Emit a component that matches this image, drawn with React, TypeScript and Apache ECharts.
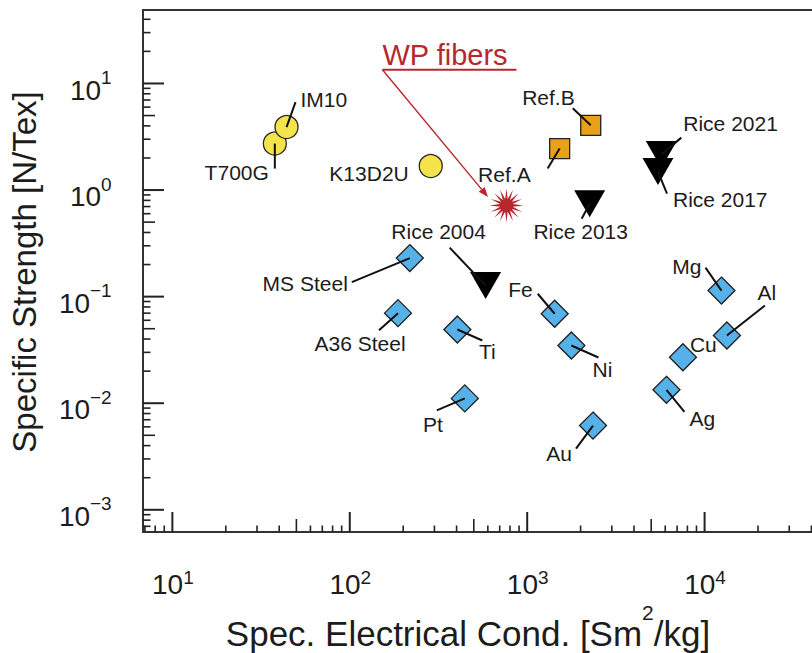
import React, { useEffect, useRef } from "react";
import * as echarts from "echarts";

const FONT = '"Liberation Sans", Arial, Helvetica, sans-serif';
const TEXT = "#1c1c1c";
const RED = "#B7282E";

// ---------------- data ----------------
const carbonNames = ["T700G", "IM10", "K13D2U"];
const carbonCond = [37.8, 44, 286];
const carbonStrength = [2.73, 3.9, 1.68];

const refNames = ["Ref.A", "Ref.B"];
const refCond = [1524, 2281];
const refStrength = [2.45, 4.05];

const riceNames = ["Rice 2004", "Rice 2013", "Rice 2017", "Rice 2021"];
const riceCond = [583, 2250, 5460, 5700];
const riceStrength = [0.127, 0.745, 1.49, 2.15];

const metalNames = ["MS Steel", "A36 Steel", "Ti", "Pt", "Fe", "Ni", "Au", "Mg", "Al", "Cu", "Ag"];
const metalCond = [218, 187, 404, 445, 1429, 1775, 2350, 12450, 13360, 7550, 6095];
const metalStrength = [0.23, 0.07, 0.0492, 0.0111, 0.0691, 0.0348, 0.00617, 0.114, 0.0432, 0.027, 0.01336];

const wpName = "WP fibers";
const wpCond = [764];
const wpStrength = [0.718];

const xTickExponents = [1, 2, 3, 4];
const yTickExponents = [-3, -2, -1, 0, 1];

const X_MIN = 6.83;
const X_MAX = 1e5;
const Y_MIN = 6.19e-4;
const Y_MAX = 48.9;

// ---------------- label layout (pixel offsets from marker) ----------------
type Lay = { dx: number; dy: number; align: "left" | "center" | "right"; lx?: number; ly?: number };
const labelLayout: Record<string, Lay> = {
  T700G: { dx: -6, dy: 29, align: "right", lx: 0, ly: 25 },
  IM10: { dx: 14, dy: -28, align: "left", lx: 9, ly: -25 },
  K13D2U: { dx: -22, dy: 7, align: "right" },
  "Ref.A": { dx: -29, dy: 26, align: "right", lx: -12, ly: 20 },
  "Ref.B": { dx: -16, dy: -27.5, align: "right", lx: -18, ly: -17 },
  "Rice 2004": { dx: -47, dy: -54, align: "center", lx: -36, ly: -38 },
  "Rice 2013": { dx: -9, dy: 28, align: "center", lx: -8, ly: 15 },
  "Rice 2017": { dx: 15, dy: 28, align: "left", lx: 9, ly: 22 },
  "Rice 2021": { dx: 22, dy: -31.5, align: "left", lx: 20, ly: -17 },
  "MS Steel": { dx: -62, dy: 25, align: "right", lx: -58, ly: 24 },
  "A36 Steel": { dx: -38, dy: 30, align: "center", lx: -19, ly: 17 },
  Ti: { dx: 30, dy: 22, align: "center", lx: 25, ly: 11 },
  Pt: { dx: -32, dy: 26, align: "center", lx: -28, ly: 12 },
  Fe: { dx: -22, dy: -24, align: "right", lx: -17, ly: -20 },
  Ni: { dx: 31, dy: 24, align: "center", lx: 27, ly: 12 },
  Au: { dx: -34, dy: 27.5, align: "center", lx: -17, ly: 23 },
  Mg: { dx: -20, dy: -24, align: "right", lx: -16, ly: -23 },
  Al: { dx: 40, dy: -43, align: "center", lx: 38, ly: -30 },
  Cu: { dx: 7, dy: -13, align: "left" },
  Ag: { dx: 23, dy: 29, align: "left", lx: 18, ly: 22 },
};

type Pt = { name: string; x: number; y: number };
const allPoints: Pt[] = [];
[
  [carbonNames, carbonCond, carbonStrength],
  [refNames, refCond, refStrength],
  [riceNames, riceCond, riceStrength],
  [metalNames, metalCond, metalStrength],
].forEach(([names, xs, ys]: any) => {
  names.forEach((n: string, i: number) => allPoints.push({ name: n, x: xs[i], y: ys[i] }));
});

// axis tick positions (standard log decades)
const xTicks: number[][] = [];
for (let d = 0; d <= 5; d++)
  for (let m = 1; m <= 9; m++) {
    const v = m * Math.pow(10, d);
    if (v >= X_MIN && v <= X_MAX) xTicks.push([v, Y_MIN, m === 1 ? 20 : m === 5 ? 13 : 6.5]);
  }
const yTicks: number[][] = [];
for (let d = -4; d <= 1; d++)
  for (let m = 1; m <= 9; m++) {
    const v = m * Math.pow(10, d);
    if (v >= Y_MIN && v <= Y_MAX) yTicks.push([X_MIN, v, m === 1 ? 21 : m === 5 ? 12 : 7.5]);
  }

const starSymbol = (() => {
  const n = 16;
  let d = "";
  for (let i = 0; i < 2 * n; i++) {
    const r = i % 2 === 0 ? 50 : 19;
    const a = (Math.PI * i) / n - Math.PI / 2;
    d += (i ? "L" : "M") + (50 + r * Math.cos(a)).toFixed(2) + "," + (50 + r * Math.sin(a)).toFixed(2);
  }
  return "path://" + d + "Z";
})();

const supText = (e: number) => (e < 0 ? "\u2212" + -e : String(e));

export default function App() {
  const ref = useRef<HTMLDivElement>(null);
  useEffect(() => {
    document.body.style.margin = "0";
    if (!ref.current) return;
    const chart = echarts.init(ref.current, undefined, { renderer: "svg" });
    const hiddenAxis = {
      type: "log",
      logBase: 10,
      axisLine: { show: false },
      axisTick: { show: false },
      axisLabel: { show: false },
      splitLine: { show: false },
      minorTick: { show: false },
    };
    const option: any = {
      animation: false,
      backgroundColor: "#ffffff",
      grid: {
        left: 143,
        top: 10,
        right: -70,
        bottom: 121,
        show: true,
        borderColor: "#333",
        borderWidth: 2,
        backgroundColor: "transparent",
        containLabel: false,
        outerBoundsMode: "none",
      },
      xAxis: { ...hiddenAxis, min: X_MIN, max: X_MAX },
      yAxis: { ...hiddenAxis, min: Y_MIN, max: Y_MAX },
      graphic: [
        {
          type: "text",
          x: 24,
          y: 272,
          rotation: Math.PI / 2,
          style: {
            text: "Specific Strength [N/Tex]",
            fill: TEXT,
            fontSize: 33,
            fontFamily: FONT,
            align: "center",
            verticalAlign: "middle",
          },
        },
        {
          type: "text",
          x: 468,
          y: 633,
          style: {
            text: "{a|Spec. Electrical Cond. [Sm}{s|2}{a|/kg]}",
            fill: TEXT,
            fontFamily: FONT,
            align: "center",
            verticalAlign: "middle",
            rich: {
              a: { fontSize: 35, lineHeight: 62, fontFamily: FONT, fill: TEXT, verticalAlign: "middle" },
              s: { fontSize: 21, lineHeight: 21, fontFamily: FONT, fill: TEXT, verticalAlign: "top" },
            },
          },
        },
      ],
      series: [
        {
          type: "custom",
          name: "xticks",
          z: 4,
          silent: true,
          data: xTicks,
          renderItem: (_p: any, api: any) => {
            const c = api.coord([api.value(0), api.value(1)]);
            const len = api.value(2);
            return {
              type: "line",
              shape: { x1: c[0], y1: c[1], x2: c[0], y2: c[1] - len },
              style: { stroke: "#222", lineWidth: len > 15 ? 2 : 1.6 },
            };
          },
        },
        {
          type: "custom",
          name: "yticks",
          z: 4,
          silent: true,
          data: yTicks,
          renderItem: (_p: any, api: any) => {
            const c = api.coord([api.value(0), api.value(1)]);
            const len = api.value(2);
            return {
              type: "line",
              shape: { x1: c[0], y1: c[1], x2: c[0] + len, y2: c[1] },
              style: { stroke: "#222", lineWidth: len > 15 ? 2 : 1.6 },
            };
          },
        },
        {
          type: "custom",
          name: "xlabels",
          silent: true,
          data: xTickExponents.map((e) => [Math.pow(10, e), Y_MIN, e]),
          renderItem: (_p: any, api: any) => {
            const c = api.coord([api.value(0), api.value(1)]);
            const e = api.value(2);
            return {
              type: "text",
              x: c[0] + 0.5,
              y: c[1] + 52.5,
              style: {
                text: "{b|10}{s|" + supText(e) + "}",
                align: "center",
                verticalAlign: "middle",
                rich: {
                  b: { fontSize: 28, lineHeight: 34, fontFamily: FONT, fill: TEXT, verticalAlign: "middle" },
                  s: { fontSize: 19, lineHeight: 19, fontFamily: FONT, fill: TEXT, verticalAlign: "top" },
                },
              },
            };
          },
        },
        {
          type: "custom",
          name: "ylabels",
          silent: true,
          data: yTickExponents.map((e) => [X_MIN, Math.pow(10, e), e]),
          renderItem: (_p: any, api: any) => {
            const c = api.coord([api.value(0), api.value(1)]);
            const e = api.value(2);
            return {
              type: "text",
              x: c[0] - 31.3,
              y: c[1] + 6.7,
              style: {
                text: "{b|10}{s|" + supText(e) + "}",
                align: "right",
                verticalAlign: "middle",
                rich: {
                  b: { fontSize: 28, lineHeight: 44, fontFamily: FONT, fill: TEXT, verticalAlign: "middle" },
                  s: { fontSize: 19, lineHeight: 19, fontFamily: FONT, fill: TEXT, verticalAlign: "top" },
                },
              },
            };
          },
        },
        {
          type: "custom",
          name: "labels",
          z: 1,
          silent: true,
          data: allPoints.map((p, i) => [p.x, p.y, i]),
          renderItem: (_p: any, api: any) => {
            const c = api.coord([api.value(0), api.value(1)]);
            const pt = allPoints[api.value(2)];
            const L = labelLayout[pt.name];
            return {
              type: "text",
              x: c[0] + L.dx,
              y: c[1] + L.dy,
              style: {
                text: pt.name,
                fill: TEXT,
                fontSize: 21,
                fontFamily: FONT,
                align: L.align,
                verticalAlign: "middle",
              },
            };
          },
        },
        {
          type: "scatter",
          name: "Carbon fibers",
          z: 2,
          silent: true,
          symbol: "circle",
          symbolSize: 23,
          itemStyle: { color: "#F4E34A", borderColor: "#2a2a2a", borderWidth: 1.3, opacity: 1 },
          data: carbonCond.map((x, i) => [x, carbonStrength[i]]),
        },
        {
          type: "scatter",
          name: "References",
          z: 2,
          silent: true,
          symbol: "rect",
          symbolSize: 20,
          itemStyle: { color: "#E8A11B", borderColor: "#222", borderWidth: 1.3, opacity: 1 },
          data: refCond.map((x, i) => [x, refStrength[i]]),
        },
        {
          type: "scatter",
          name: "Rice CNT fibers",
          z: 2,
          silent: true,
          symbol: "triangle",
          symbolRotate: 180,
          symbolSize: [31, 27],
          itemStyle: { color: "#000", opacity: 1 },
          data: riceCond.map((x, i) => [x, riceStrength[i]]),
        },
        {
          type: "scatter",
          name: "Metals",
          z: 2,
          silent: true,
          symbol: "diamond",
          symbolSize: 27,
          itemStyle: { color: "#55B1E8", borderColor: "#1f1f1f", borderWidth: 1.3, opacity: 1 },
          data: metalCond.map((x, i) => [x, metalStrength[i]]),
        },
        {
          type: "scatter",
          name: wpName,
          z: 2,
          silent: true,
          symbol: starSymbol,
          symbolSize: 34,
          itemStyle: { color: RED, opacity: 1 },
          data: wpCond.map((x, i) => [x, wpStrength[i]]),
        },
        {
          type: "custom",
          name: "leaders",
          z: 3,
          silent: true,
          data: allPoints.map((p, i) => [p.x, p.y, i]),
          renderItem: (_p: any, api: any) => {
            const c = api.coord([api.value(0), api.value(1)]);
            const pt = allPoints[api.value(2)];
            const L = labelLayout[pt.name];
            if (L.lx === undefined || L.ly === undefined) return null;
            return {
              type: "line",
              shape: { x1: c[0], y1: c[1], x2: c[0] + L.lx, y2: c[1] + L.ly },
              style: { stroke: "#111", lineWidth: 2 },
            };
          },
        },
        {
          type: "custom",
          name: "wpAnnotation",
          z: 3,
          silent: true,
          data: wpCond.map((x, i) => [x, wpStrength[i]]),
          renderItem: (_p: any, api: any) => {
            const c = api.coord([api.value(0), api.value(1)]);
            const sx = c[0] - 124;
            const sy = c[1] - 135.7;
            const tx = c[0] - 18.4;
            const ty = c[1] - 8.3;
            const ang = Math.atan2(ty - sy, tx - sx);
            const hl = 10;
            const hw = 3.8;
            const bx = tx - hl * Math.cos(ang);
            const by = ty - hl * Math.sin(ang);
            const px = -Math.sin(ang) * hw;
            const py = Math.cos(ang) * hw;
            return {
              type: "group",
              children: [
                {
                  type: "text",
                  x: sx,
                  y: c[1] - 150,
                  style: {
                    text: wpName,
                    fill: RED,
                    fontSize: 29,
                    fontFamily: FONT,
                    align: "left",
                    verticalAlign: "middle",
                  },
                },
                {
                  type: "line",
                  shape: { x1: sx, y1: sy, x2: sx + 134, y2: sy },
                  style: { stroke: RED, lineWidth: 2 },
                },
                {
                  type: "line",
                  shape: { x1: sx, y1: sy, x2: bx, y2: by },
                  style: { stroke: RED, lineWidth: 1.4 },
                },
                {
                  type: "polygon",
                  shape: { points: [[tx, ty], [bx + px, by + py], [bx - px, by - py]] },
                  style: { fill: RED },
                },
              ],
            };
          },
        },
      ],
    };
    chart.setOption(option);
    return () => chart.dispose();
  }, []);
  return <div ref={ref} style={{ width: 812, height: 653 }} />;
}
